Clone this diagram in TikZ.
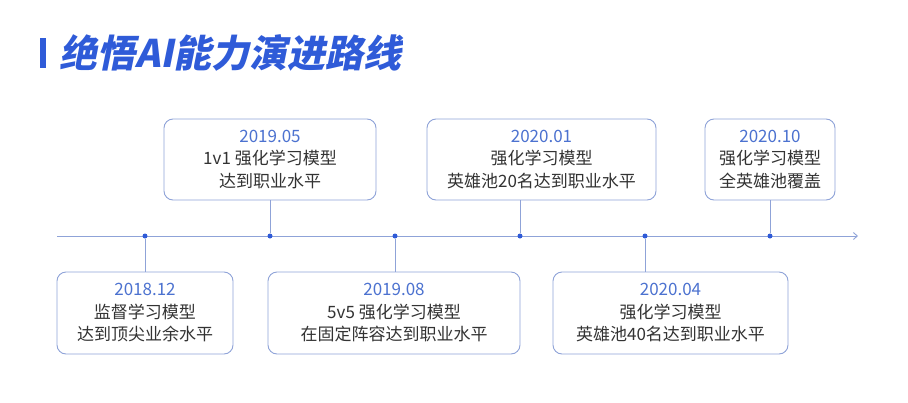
\documentclass[tikz,border=0pt]{standalone}
\usepackage{fontspec}
\setmainfont{Noto Sans CJK SC}
\usetikzlibrary{arrows.meta}
\definecolor{tlblue}{HTML}{2F5BD8}
\definecolor{datblue}{HTML}{4C72D0}
\definecolor{boxline}{HTML}{8FA3D8}
\definecolor{txtgray}{HTML}{333333}
\tikzset{
  evbox/.style={draw=boxline,line width=0.9pt,rounded corners=9pt,fill=white,
    align=center,font=\fontsize{17}{22.5}\selectfont,text=txtgray,inner sep=0pt},
  evdot/.style={circle,fill=tlblue,inner sep=0pt,minimum size=5pt},
  evlink/.style={draw=boxline,line width=0.9pt}
}
\begin{document}
\begin{tikzpicture}[x=1pt,y=-1pt]
\useasboundingbox (0,0) rectangle (908,402);
% title
\fill[tlblue] (40,38) rectangle (46,68);
\node[anchor=west,text=tlblue,font=\fontsize{38}{40}\selectfont\bfseries,xslant=0.2,inner sep=0pt] (title) at (62,53) {绝悟AI能力演进路线};
% axis
\coordinate (axstart) at (57,236);
\coordinate (axend) at (858,236);
\draw[boxline,line width=0.9pt,-{Straight Barb[length=4pt,width=7pt]}] (axstart) -- (axend);
\foreach \n/\x in {a/145,b/270,c/395,d/520,e/645,f/770}
  \node[evdot] (dot\n) at (\x,236) {};
% top boxes
\node[evbox,minimum width=212pt,minimum height=81pt] (ev1905) at (270,159.5)
  {\textcolor{datblue}{2019.05}\\1v1 强化学习模型\\达到职业水平};
\node[evbox,minimum width=229pt,minimum height=81pt] (ev2001) at (541.5,159.5)
  {\textcolor{datblue}{2020.01}\\强化学习模型\\英雄池20名达到职业水平};
\node[evbox,minimum width=130pt,minimum height=81pt] (ev2010) at (770,159.5)
  {\textcolor{datblue}{2020.10}\\强化学习模型\\全英雄池覆盖};
% bottom boxes
\node[evbox,minimum width=176pt,minimum height=82pt] (ev1812) at (145,313)
  {\textcolor{datblue}{2018.12}\\监督学习模型\\达到顶尖业余水平};
\node[evbox,minimum width=252pt,minimum height=82pt] (ev1908) at (394,313)
  {\textcolor{datblue}{2019.08}\\5v5 强化学习模型\\在固定阵容达到职业水平};
\node[evbox,minimum width=235pt,minimum height=82pt] (ev2004) at (670.5,313)
  {\textcolor{datblue}{2020.04}\\强化学习模型\\英雄池40名达到职业水平};
% links
\draw[evlink] (dotb) -- (dotb |- ev1905.south);
\draw[evlink] (dotd) -- (dotd |- ev2001.south);
\draw[evlink] (dotf) -- (dotf |- ev2010.south);
\draw[evlink] (dota) -- (dota |- ev1812.north);
\draw[evlink] (dotc) -- (dotc |- ev1908.north);
\draw[evlink] (dote) -- (dote |- ev2004.north);
\end{tikzpicture}
\end{document}
